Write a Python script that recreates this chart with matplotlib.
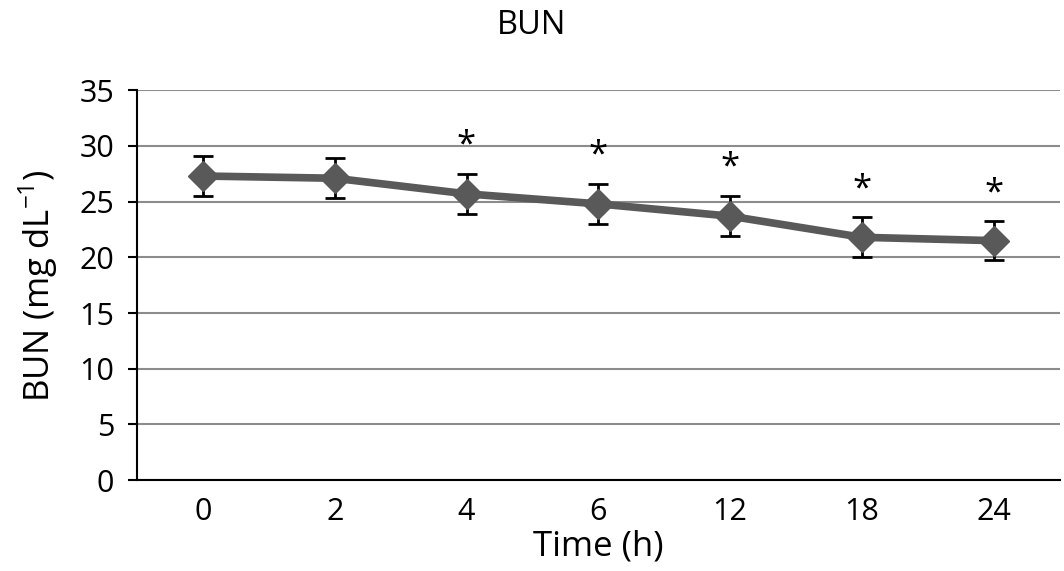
import matplotlib
matplotlib.use('Agg')
import matplotlib.pyplot as plt

time_labels = ['0', '2', '4', '6', '12', '18', '24']
bun_mean = [27.3, 27.1, 25.7, 24.8, 23.7, 21.8, 21.5]
bun_err = [1.8, 1.8, 1.8, 1.8, 1.8, 1.8, 1.75]
significant = [False, False, True, True, True, True, True]

plt.rcParams['font.family'] = ['Open Sans', 'DejaVu Sans']
plt.rcParams['mathtext.fontset'] = 'custom'
plt.rcParams['mathtext.rm'] = 'Open Sans'

fig = plt.figure(figsize=(10.64, 5.71), dpi=100)
ax = fig.add_axes([0.1288, 0.159, 0.867, 0.683])

x = list(range(len(time_labels)))
ax.errorbar(x, bun_mean, yerr=bun_err, fmt='none', ecolor='black',
            elinewidth=2, capsize=7, capthick=2, zorder=2)
ax.plot(x, bun_mean, color='#595959', linewidth=5.5, marker='D',
        markersize=15, zorder=3)

# significance stars above the error bars
for i, sig in enumerate(significant):
    if sig:
        ax.annotate('*', (x[i], bun_mean[i] + bun_err[i]), xytext=(0, 8),
                    textcoords='offset points', ha='center', va='bottom',
                    fontsize=25)

ax.set_xlim(-0.5, len(time_labels) - 0.5)
ax.set_ylim(0, 35)
ax.set_yticks(range(0, 36, 5))
ax.set_xticks(x)
ax.set_xticklabels(time_labels)
ax.yaxis.grid(True, color='#8c8c8c', linewidth=1.5)
ax.set_axisbelow(True)
for s in ['top', 'right']:
    ax.spines[s].set_visible(False)
ax.spines['left'].set_linewidth(1.5)
ax.spines['bottom'].set_linewidth(1.5)
ax.tick_params(axis='y', length=6.5, width=1.5, labelsize=22, pad=10)
ax.tick_params(axis='x', length=0, labelsize=22, pad=12)

ax.set_xlabel('Time (h)', fontsize=25, labelpad=2)
ax.set_ylabel('BUN (mg dL$^{\u2212 1}$)', fontsize=25, labelpad=14)
fig.text(0.5, 0.955, 'BUN', ha='center', va='center', fontsize=23.5)

fig.savefig('out.png', dpi=100)
